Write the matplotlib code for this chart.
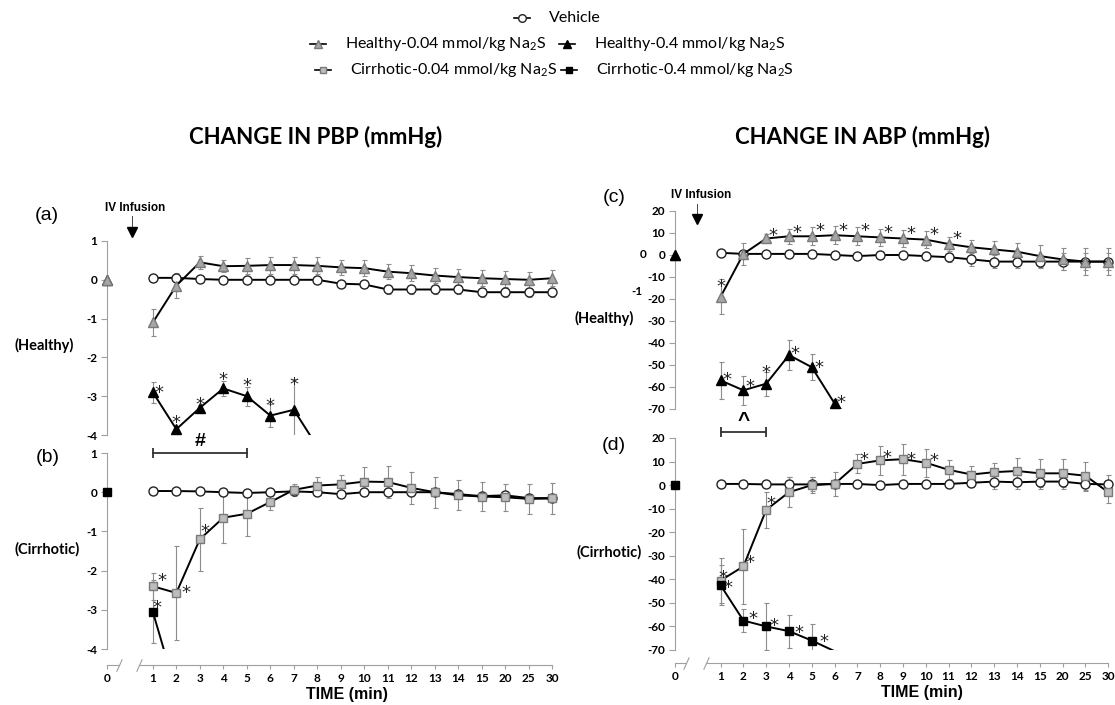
"""
PBP / ABP time course after Na2S infusion: four panels plus a shared legend.
"""

import matplotlib

matplotlib.use("Agg")
import matplotlib.pyplot as plt
import matplotlib.path as mpath
from matplotlib.lines import Line2D
from matplotlib.transforms import offset_copy

plt.rcParams.update(
    {
        "font.family": ["Lato", "DejaVu Sans"],
        "mathtext.fontset": "custom",
        "mathtext.rm": "Lato",
        "mathtext.bf": "Lato:bold",
        "axes.unicode_minus": False,
        "figure.facecolor": "white",
    }
)

# ─── data ─────────────────────────────────────────
TIMES = [1, 2, 3, 4, 5, 6, 7, 8, 9, 10, 11, 12, 13, 14, 15, 20, 25, 30]
TIME_LABELS = ["0"] + [str(t) for t in TIMES]

# (a) PBP, healthy
veh_a = [0.05, 0.05, 0.02, 0.0, 0.0, 0.0, 0.0, 0.0, -0.1, -0.12, -0.25, -0.25,
         -0.25, -0.25, -0.32, -0.32, -0.32, -0.32]
veh_a_err = [0.05, 0.08, 0.05, 0.05, 0.05, 0.05, 0.05, 0.05, 0.08, 0.1, 0.12,
             0.12, 0.12, 0.12, 0.12, 0.12, 0.12, 0.12]
low_a = [-1.1, -0.15, 0.45, 0.35, 0.36, 0.38, 0.38, 0.36, 0.32, 0.3, 0.21, 0.17,
         0.11, 0.07, 0.04, 0.02, 0.0, 0.04]
low_a_err = [0.35, 0.32, 0.17, 0.15, 0.2, 0.22, 0.22, 0.22, 0.2, 0.2, 0.2, 0.2,
             0.2, 0.2, 0.2, 0.2, 0.2, 0.2]
high_a = [-2.9, -3.85, -3.3, -2.8, -3.0, -3.5, -3.35, -4.3]
high_a_err = [0.27, 0.05, 0.07, 0.2, 0.25, 0.3, 0.8, 0.0]
stars_a = [(1.25, -2.79), (2, -3.56), (3, -3.1), (4, -2.46), (5, -2.62),
           (6, -3.12), (7, -2.59)]

# (b) PBP, cirrhotic
veh_b = [0.03, 0.03, 0.02, 0.0, -0.02, 0.0, 0.02, 0.0, -0.05, 0.0, 0.0, 0.0,
         0.0, -0.05, -0.1, -0.08, -0.15, -0.15]
veh_b_err = [0.06] * 18
low_b = [-2.4, -2.57, -1.2, -0.65, -0.55, -0.25, 0.06, 0.17, 0.2, 0.27, 0.26,
         0.11, 0.0, -0.08, -0.11, -0.13, -0.17, -0.16]
low_b_err = [0.35, 1.2, 0.8, 0.65, 0.57, 0.2, 0.15, 0.22, 0.25, 0.37, 0.42, 0.4,
             0.4, 0.38, 0.38, 0.35, 0.38, 0.4]
high_b = [-3.05, -5.1]
high_b_err = [0.8, 0.0]
stars_b = [(1.38, -2.13), (2.43, -2.46), (3.23, -0.9), (1.17, -2.83)]

# (c) ABP, healthy
veh_c = [1.0, 0.5, 0.5, 0.5, 0.5, 0.0, -0.5, 0.0, 0.0, -0.5, -1.0, -2.0, -3.0,
         -3.0, -3.0, -3.0, -3.0, -3.0]
veh_c_err = [1, 1, 1, 1, 1, 1, 1, 1, 1, 1.5, 2, 3, 3, 3, 3, 4, 4, 4]
low_c = [-19, 0.5, 7.5, 8.5, 8.5, 9, 8.5, 8, 7.5, 7, 5, 3.5, 2.5, 1.5, -0.5, -2,
         -3, -3]
low_c_err = [8, 5, 2, 3.5, 4, 4, 4, 4, 4, 4, 3, 3.5, 4, 4, 5, 5, 6, 6]
high_c = [-57, -61.5, -58.5, -45.5, -51, -67.5, -77]
high_c_err = [8.5, 6.5, 5.5, 7, 6, 2, 0]
stars_c = [(1, -12.5), (3.3, 10.9), (4.35, 12.4), (5.35, 12.9), (6.35, 13.2),
           (7.35, 12.9), (8.35, 12.4), (9.35, 11.9), (10.35, 11.4), (11.35, 9.4),
           (1.28, -54.5), (2.28, -58), (3, -51.2), (4.28, -42.9), (5.3, -49.2),
           (6.3, -65)]

# (d) ABP, cirrhotic
veh_d = [0.5, 0.5, 0.3, 0.3, 0.3, 0.5, 0.5, 0.0, 0.5, 0.5, 0.5, 1.0, 1.5, 1.2,
         1.5, 1.5, 0.5, 0.3]
veh_d_err = [1, 1, 1, 3, 3, 1, 1, 1, 1, 1, 1, 2, 3, 3, 3, 3, 3, 4]
low_d = [-40.5, -34.5, -10.5, -3, 0, 0.5, 9, 10.5, 11, 9.5, 6.5, 4.5, 5.5, 6, 5,
         5, 4, -3]
low_d_err = [9.5, 16, 7.5, 6.5, 3.5, 5, 4, 6, 6.5, 6, 4, 3.5, 4, 5.5, 6, 6, 6,
             4.5]
high_d = [-42.5, -57.5, -60, -62, -66, -70.5]
high_d_err = [8.5, 5, 10, 7, 7, 0]
stars_d = [(1.1, -37.5), (2.28, -30.9), (3.22, -6), (7.3, 12.8), (8.28, 13.4),
           (9.33, 12.8), (10.35, 12.2), (1.32, -41.5), (2.42, -54.6),
           (3.35, -57.9), (4.45, -60.7), (5.55, -64.5)]

# ─── style ────────────────────────────────────────
W, H = 1115, 705
AXIS_GRAY = "#a0a0a0"
ERR_GRAY = "#8c8c8c"
POS = list(range(1, len(TIMES) + 1))

VEH = dict(marker="o", mfc="white", mec="#222222", ms=6.5)
LOW_TRI = dict(marker="^", mfc="#a6a6a6", mec="#7a7a7a", ms=6.5)
HIGH_TRI = dict(marker="^", mfc="black", mec="black", ms=6.5)
LOW_SQ = dict(marker="s", mfc="#bdbdbd", mec="#7a7a7a", ms=6)
HIGH_SQ = dict(marker="s", mfc="black", mec="black", ms=6)

SLASH = mpath.Path([(-0.45, -1), (0.45, 1)], [mpath.Path.MOVETO, mpath.Path.LINETO])

fig = plt.figure(figsize=(W / 100, H / 100), dpi=100)


def fx(px):
    return px / W


def fy(py):
    return 1 - py / H


def add_panel(left, top, bottom, x0, ppu, ylim, yticks, x_off=None):
    xmax = 18.5
    ax = fig.add_axes([fx(left), fy(bottom), (xmax - x0) * ppu / W, (bottom - top) / H])
    ax.set_facecolor("none")
    ax.set_xlim(x0, xmax)
    ax.set_ylim(*ylim)
    for s in ("top", "right", "bottom"):
        ax.spines[s].set_visible(False)
    ax.spines["left"].set_color(AXIS_GRAY)
    ax.spines["left"].set_linewidth(0.8)
    ax.set_yticks(yticks)
    ax.set_yticklabels([str(t) for t in yticks], fontweight="bold", fontsize=8.5)
    ax.tick_params(axis="y", length=4, width=0.8, color=AXIS_GRAY, pad=3)
    if x_off is None:
        ax.set_xticks([])
        return ax
    ax.spines["bottom"].set_position(("outward", x_off))
    ax.set_xticks([x0] + POS)
    ax.set_xticklabels(TIME_LABELS, fontweight="bold", fontsize=8.5)
    ax.tick_params(axis="x", length=3, width=0.8, color=AXIS_GRAY, pad=3)
    trans = offset_copy(ax.get_xaxis_transform(), fig=fig, y=-x_off, units="points")
    kw = dict(color=AXIS_GRAY, lw=0.8, transform=trans, clip_on=False)
    ax.plot([x0, x0 + 0.5], [0, 0], **kw)
    ax.plot([x0 + 1.38, 18], [0, 0], **kw)
    ax.plot([x0 + 0.5, x0 + 1.38], [0, 0], ls="none", marker=SLASH, ms=9,
            mec=AXIS_GRAY, mew=0.8, transform=trans, clip_on=False)
    return ax


def series(ax, y, err, style, last_hidden=False):
    xs = POS[: len(y)]
    ax.errorbar(xs, y, yerr=err, fmt="none", ecolor=ERR_GRAY, elinewidth=0.8,
                capsize=1.8, capthick=0.8, zorder=2)
    n = len(y) - 1 if last_hidden else len(y)
    ax.plot(xs, y, color="black", lw=1.4, markevery=list(range(n)), zorder=3,
            clip_on=True, **style)


def stars(ax, pts):
    trans = offset_copy(ax.transData, fig=fig, y=-3.5, units="points")
    for x, y in pts:
        ax.text(x, y, "*", ha="center", va="center", fontsize=13,
                family=["DejaVu Sans"], color="#222222", zorder=5,
                clip_on=False, transform=trans)


def zero_point(ax, x0, style):
    ax.plot([x0], [0], ls="none", clip_on=False, zorder=4, **style)


# ─── panels ───────────────────────────────────────
XL, XR = -0.95, -1.0

ax_a = add_panel(107, 241, 435, XL, 23.5, (-4, 1), [1, 0, -1, -2, -3, -4])
series(ax_a, veh_a, veh_a_err, VEH)
series(ax_a, low_a, low_a_err, LOW_TRI)
series(ax_a, high_a, high_a_err, HIGH_TRI, last_hidden=True)
zero_point(ax_a, XL, HIGH_TRI)
zero_point(ax_a, XL, LOW_TRI)
stars(ax_a, stars_a)

ax_b = add_panel(107, 453, 649, XL, 23.5, (-4, 1), [1, 0, -1, -2, -3, -4], x_off=11.5)
series(ax_b, veh_b, veh_b_err, VEH)
series(ax_b, low_b, low_b_err, LOW_SQ)
series(ax_b, high_b, high_b_err, HIGH_SQ, last_hidden=True)
zero_point(ax_b, XL, HIGH_SQ)
stars(ax_b, stars_b)
ax_b.plot([1, 5], [1.0, 1.0], color="#333333", lw=1.3, marker="|", ms=7,
          mew=1.3, clip_on=False)
ax_b.text(3, 1.3, "#", ha="center", va="center", fontsize=14, fontweight="bold",
          family=["Liberation Sans"], clip_on=False)

ABP_TICKS = [20, 10, 0, -10, -20, -30, -40, -50, -60, -70]
ax_c = add_panel(675, 211, 409, XR, 22.8, (-70, 20), ABP_TICKS)
series(ax_c, veh_c, veh_c_err, VEH)
series(ax_c, low_c, low_c_err, LOW_TRI)
series(ax_c, high_c, high_c_err, HIGH_TRI, last_hidden=True)
zero_point(ax_c, XR, LOW_TRI)
zero_point(ax_c, XR, HIGH_TRI)
stars(ax_c, stars_c)

ax_d = add_panel(675, 438, 650, XR, 22.8, (-70, 20), ABP_TICKS, x_off=9.4)
series(ax_d, veh_d, veh_d_err, VEH)
series(ax_d, low_d, low_d_err, LOW_SQ)
series(ax_d, high_d, high_d_err, HIGH_SQ, last_hidden=True)
zero_point(ax_d, XR, HIGH_SQ)
stars(ax_d, stars_d)
ax_d.plot([1, 3], [22.6, 22.6], color="#333333", lw=1.3, marker="|", ms=7,
          mew=1.3, clip_on=False)
ax_d.text(2, 27.5, "^", ha="center", va="center", fontsize=15, fontweight="bold",
          family=["Liberation Sans"], clip_on=False)

# ─── figure texts ─────────────────────────────────
ARIAL = ["Liberation Sans", "DejaVu Sans"]


def ftext(px, py, s, **kw):
    fig.text(fx(px), fy(py), s, **kw)


for px, py, s in [(47, 215, "(a)"), (48, 457, "(b)"), (614, 198, "(c)"), (614, 446, "(d)")]:
    ftext(px, py, s, ha="center", va="center", fontsize=14, family=ARIAL)

for px, py, s in [(44, 345, "(Healthy)"), (47, 549, "(Cirrhotic)"),
                  (604, 318, "(Healthy)"), (609, 552, "(Cirrhotic)")]:
    ftext(px, py, s, ha="center", va="center", fontsize=10.5, fontweight="bold")

# stray tick labels left over from the PBP axis
ftext(643, 255, "0", ha="center", va="center", fontsize=8.5, fontweight="bold")
ftext(637, 291, "-1", ha="center", va="center", fontsize=8.5, fontweight="bold")

ftext(316, 137, "CHANGE IN PBP (mmHg)", ha="center", va="center", fontsize=16,
      fontweight="bold")
ftext(863, 137, "CHANGE IN ABP (mmHg)", ha="center", va="center", fontsize=16,
      fontweight="bold")

ftext(347, 694, "TIME (min)", ha="center", va="center", fontsize=11.5,
      fontweight="bold", family=ARIAL)
ftext(922, 692, "TIME (min)", ha="center", va="center", fontsize=11.5,
      fontweight="bold", family=ARIAL)

# IV infusion markers
for tx, ty, ax_x, l_top, tri_y in [(135, 208, 132, 216, 232), (701, 195, 697, 204, 219)]:
    ftext(tx, ty, "IV Infusion", ha="center", va="center", fontsize=8.5,
          fontweight="bold", family=ARIAL)
    fig.add_artist(Line2D([fx(ax_x), fx(ax_x)], [fy(l_top), fy(tri_y - 4)],
                          color="#444444", lw=0.7, transform=fig.transFigure))
    fig.add_artist(Line2D([fx(ax_x)], [fy(tri_y)], marker="v", ms=7, color="black",
                          ls="none", transform=fig.transFigure))

# legend
NA2S = " mmol/kg Na$_\\mathregular{2}$S"
legend_items = [
    (522, 18, VEH, "Vehicle"),
    (318, 44, LOW_TRI, "Healthy-0.04" + NA2S),
    (567, 44, HIGH_TRI, "Healthy-0.4" + NA2S),
    (323, 70, LOW_SQ, "Cirrhotic-0.04" + NA2S),
    (569, 70, HIGH_SQ, "Cirrhotic-0.4" + NA2S),
]
for mx, my, style, text in legend_items:
    st = dict(style)
    st["ms"] = st["ms"] - 1
    fig.add_artist(Line2D([fx(mx - 8), fx(mx), fx(mx + 8)], [fy(my)] * 3,
                          color="black", lw=1.2, markevery=[1],
                          transform=fig.transFigure, **st))
    ftext(mx + 27, my, text, ha="left", va="center", fontsize=11.5)

fig.savefig("out.png", dpi=100)
